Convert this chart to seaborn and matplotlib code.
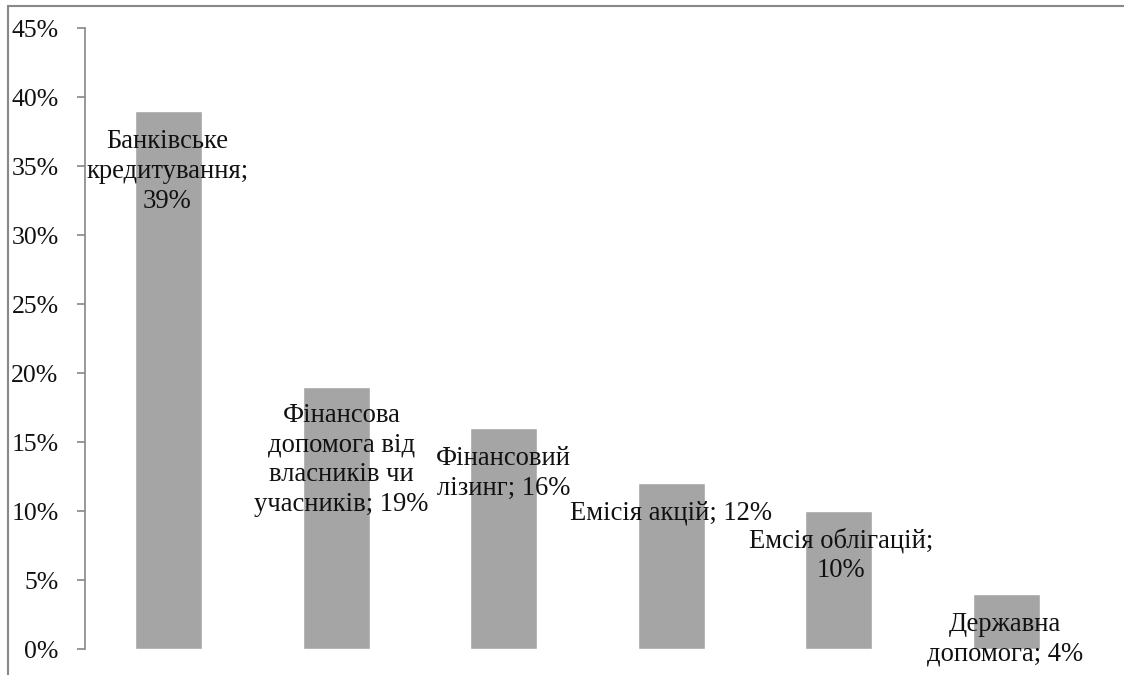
import pandas as pd
import matplotlib.pyplot as plt
import seaborn as sns
from matplotlib.lines import Line2D

# data
categories = ["Банківське кредитування", "Фінансова допомога від власників чи учасників",
              "Фінансовий лізинг", "Емісія акцій", "Емсія облігацій", "Державна допомога"]
values = [39, 19, 16, 12, 10, 4]
labels = ["Банківське\nкредитування;\n39%", "Фінансова\nдопомога від\nвласників чи\nучасників; 19%",
          "Фінансовий\nлізинг; 16%", "Емісія акцій; 12%", "Емсія облігацій;\n10%",
          "Державна\nдопомога; 4%"]
# label placement (x offset in category units, y centre in %)
label_dx = [-0.01, 0.03, 0.0, 0.0, 0.01, -0.01]
label_y = [34.6, 13.7, 12.75, 9.85, 6.8, 0.7]

df = pd.DataFrame({"cat": categories, "val": values})

sns.set_style("white")
plt.rcParams['font.family'] = ['Liberation Serif', 'DejaVu Serif']

fig = plt.figure(figsize=(11.24, 6.75), dpi=100)
ax = fig.add_axes([0.0756, 0.0385, 0.8944, 0.92])

sns.barplot(x="cat", y="val", data=df, color="#a5a5a5", width=0.4, saturation=1, ax=ax)

for i, (lab, dx, y) in enumerate(zip(labels, label_dx, label_y)):
    ax.text(i + dx, y, lab, ha="center", va="center", fontsize=19.2,
            linespacing=1.25, color="#111111")

ax.set_xlim(-0.5, 5.5)
ax.set_ylim(0, 45)
ax.set_yticks(range(0, 50, 5))
ax.set_yticklabels([f"{t}%" for t in range(0, 50, 5)], fontsize=18.5)
ax.set_xticks([])
ax.set_xlabel("")
ax.set_ylabel("")

for s in ["top", "right", "bottom"]:
    ax.spines[s].set_visible(False)
ax.spines["left"].set_color("#868686")
ax.spines["left"].set_linewidth(1.2)
ax.tick_params(axis="y", direction="out", length=6, width=1.2, color="#868686",
               left=True, pad=13, labelcolor="#111111")

# chart area border (top and left)
fig.add_artist(Line2D([0.0071, 1.0], [0.991, 0.991], color="#888888", lw=1.5))
fig.add_artist(Line2D([0.0071, 0.0071], [0.0, 0.991], color="#888888", lw=1.5))

plt.savefig("out.png", dpi=100)
